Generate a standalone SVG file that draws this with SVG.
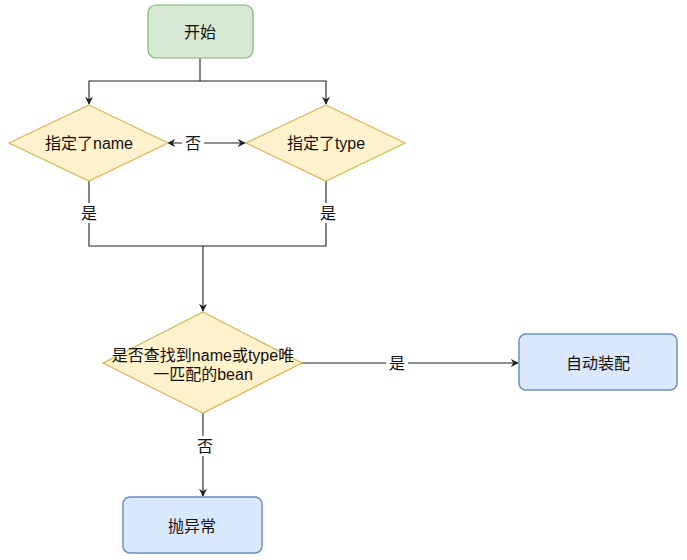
<svg xmlns="http://www.w3.org/2000/svg" width="687" height="560" viewBox="0 0 687 560">
<style>
text{font-family:"Liberation Sans","Noto Sans CJK SC",sans-serif;font-size:16px;fill:#111;text-anchor:middle;dominant-baseline:central}
.green{fill:#d5e8d4;stroke:#82b366;stroke-width:1.2}
.blue{fill:#dae8fc;stroke:#6c8ebf;stroke-width:1.5}
.yellow{fill:#fff2cc;stroke:#d6b656;stroke-width:1.2}
.edge{fill:none;stroke:#222;stroke-width:1.1}
.lbl{fill:#fff}
</style>
<defs>
<marker id="arr" viewBox="0 0 10 10" refX="9" refY="5" markerWidth="8" markerHeight="8" orient="auto-start-reverse" markerUnits="userSpaceOnUse">
<path d="M0,0 L10,5 L0,10 L3,5 Z" fill="#222"/>
</marker>
</defs>
<rect width="687" height="560" fill="#fff"/>
<g id="connectors">
<path class="edge" d="M200,58 V81 H89 V104" marker-end="url(#arr)"/>
<path class="edge" d="M200,81 H326 V104" marker-end="url(#arr)"/>
<path class="edge" d="M168,143 H245" marker-start="url(#arr)" marker-end="url(#arr)"/>
<rect class="lbl" x="182" y="133" width="22" height="20"/>
<text x="193" y="143">否</text>
<path class="edge" d="M89,181 V246 H326 V181"/>
<rect class="lbl" x="78" y="203" width="22" height="20"/>
<text x="89" y="213">是</text>
<rect class="lbl" x="317" y="203" width="22" height="20"/>
<text x="328" y="213">是</text>
<path class="edge" d="M203,246 V311" marker-end="url(#arr)"/>
<path class="edge" d="M302,363 H518" marker-end="url(#arr)"/>
<rect class="lbl" x="386" y="353" width="22" height="20"/>
<text x="397" y="363">是</text>
<path class="edge" d="M203,413 V496" marker-end="url(#arr)"/>
<rect class="lbl" x="194" y="436" width="22" height="20"/>
<text x="205" y="446">否</text>
</g>
<g id="start">
<rect class="green" x="148" y="5" width="105" height="53" rx="8"/>
<text x="200" y="32">开始</text>
</g>
<g id="name">
<polygon class="yellow" points="89,105 168,143 89,181 9,143"/>
<text x="89" y="143">指定了name</text>
</g>
<g id="type">
<polygon class="yellow" points="326,105 405,143 326,181 246,143"/>
<text x="326" y="143">指定了type</text>
</g>
<g id="unique">
<polygon class="yellow" points="203,312 302,363 203,413 103,363"/>
<text x="203" y="355">是否查找到name或type唯</text>
<text x="203" y="374">一匹配的bean</text>
</g>
<g id="auto">
<rect class="blue" x="519" y="334" width="158" height="56" rx="7"/>
<text x="598" y="363">自动装配</text>
</g>
<g id="exception">
<rect class="blue" x="123" y="497" width="139" height="56" rx="7"/>
<text x="192" y="526">抛异常</text>
</g>
</svg>
